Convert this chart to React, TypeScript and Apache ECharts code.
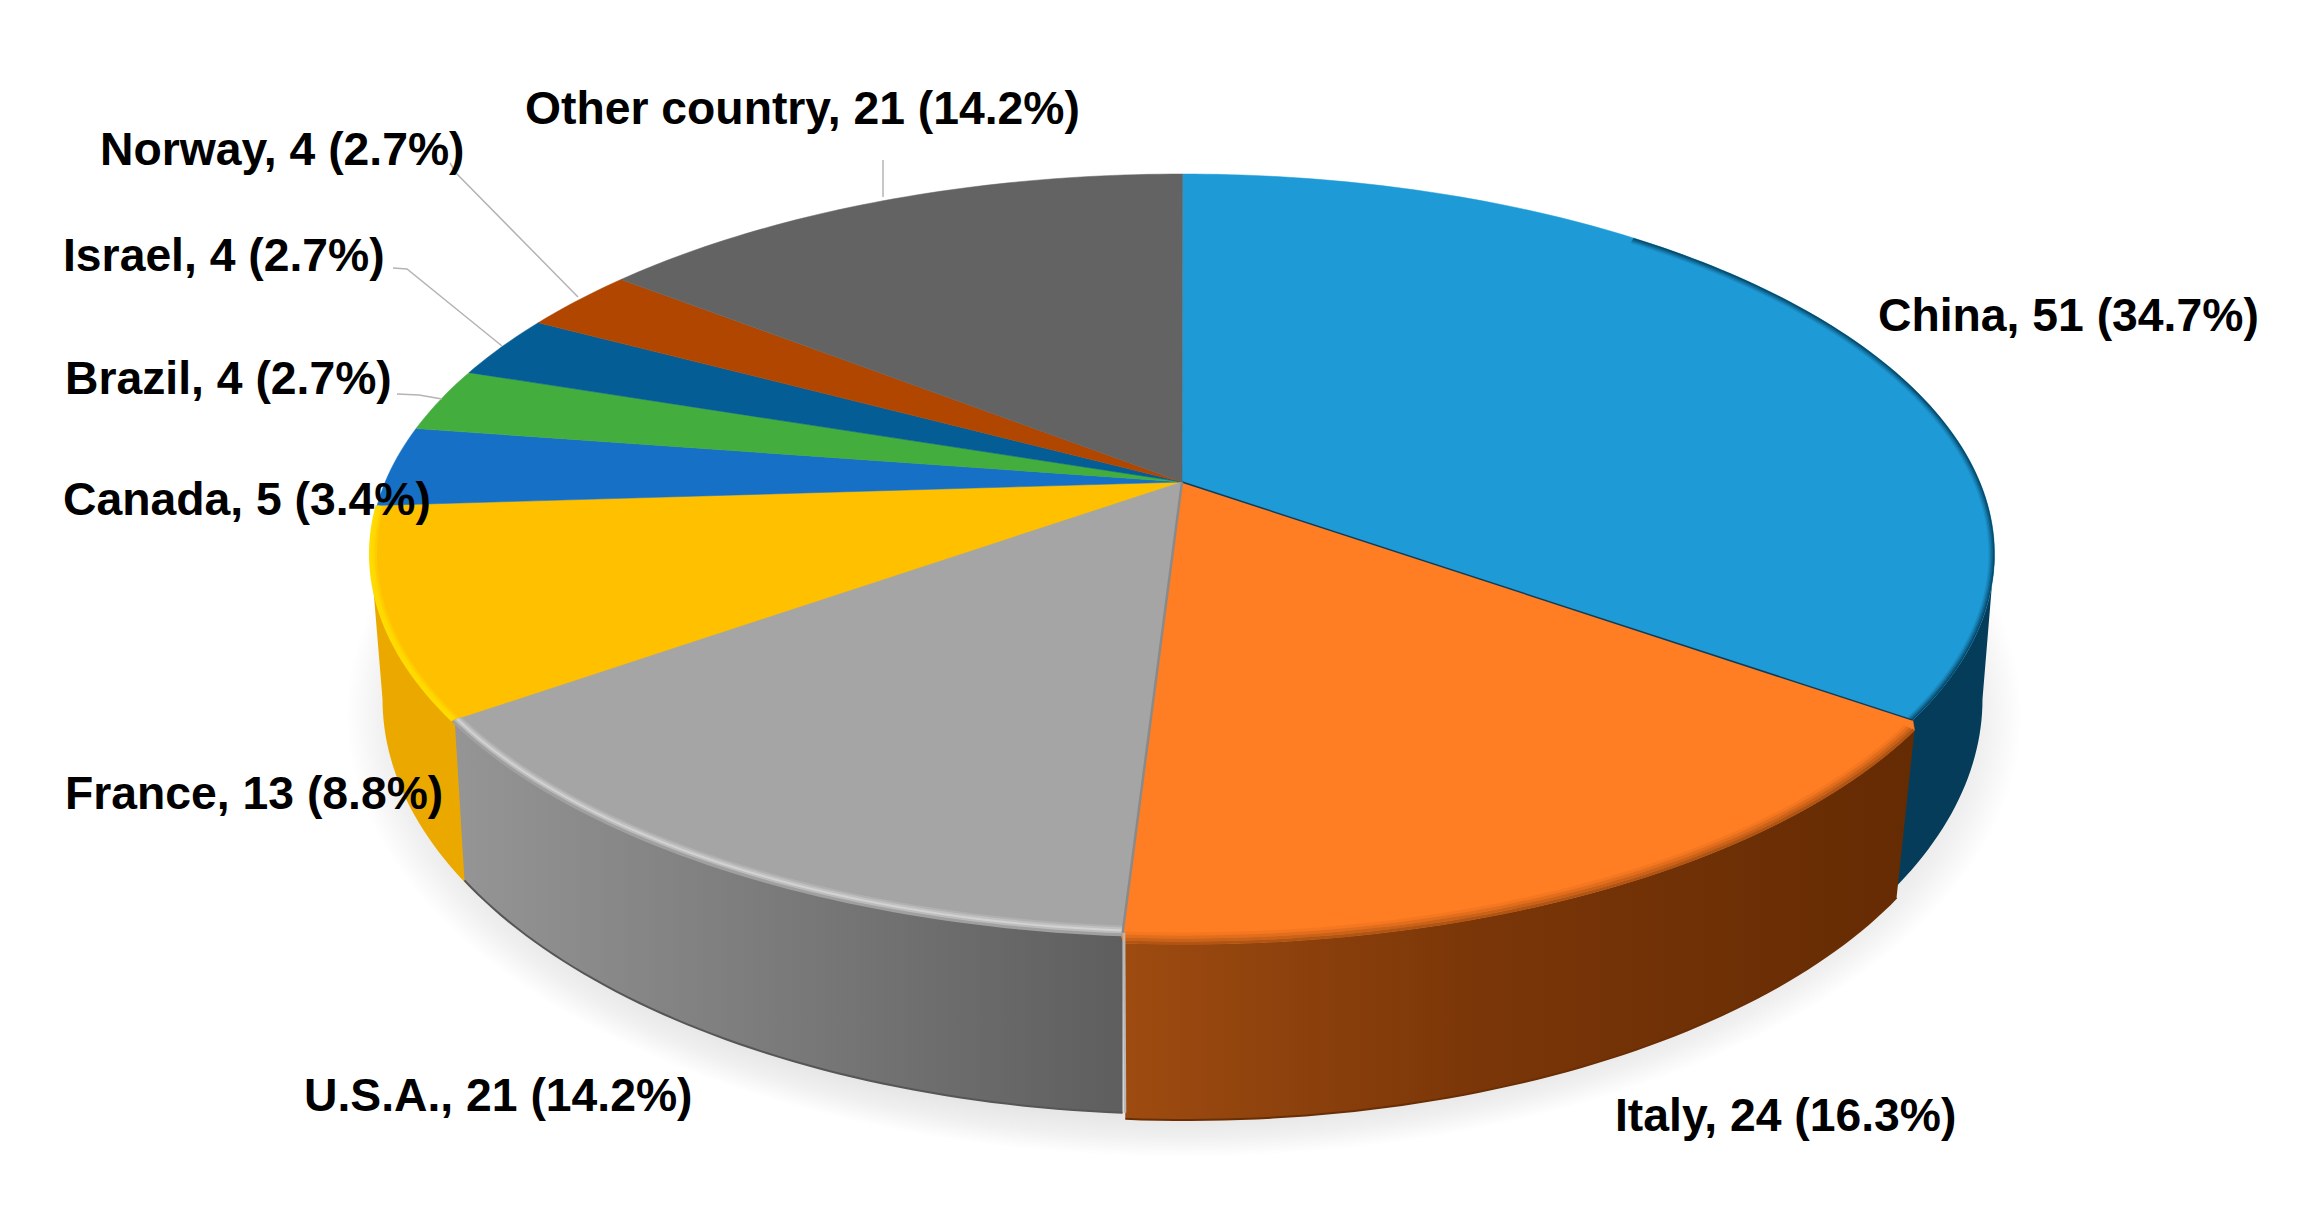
import React, { useEffect, useRef } from "react";
import * as echarts from "echarts";

const categories = ["China", "Italy", "U.S.A.", "France", "Canada", "Brazil", "Israel", "Norway", "Other country"];
const counts = [51, 24, 21, 13, 5, 4, 4, 4, 21];
const percentLabels = ["34.7%", "16.3%", "14.2%", "8.8%", "3.4%", "2.7%", "2.7%", "2.7%", "14.2%"];

const topColors = ["#1E9AD6", "#FF7D23", "#A5A5A5", "#FFC000", "#1570C6", "#43AD3D", "#045D94", "#B04600", "#636363"];
const wallStops: [number, string][][] = [
  [[0, "#043C59"], [1, "#043C59"]],
  [[0, "#9E4B10"], [0.45, "#7A3608"], [1, "#652B03"]],
  [[0, "#959595"], [1, "#5E5E5E"]],
  [[0, "#EBA900"], [1, "#EBA900"]],
];
// label anchor: left x, middle y
const labelAnchors = [
  [1878, 315], [1615, 1115], [304, 1095], [65, 793], [63, 499], [65, 378], [63, 255], [100, 149], [525, 108],
];
const leaderLines: Record<number, number[][]> = {
  5: [[397, 394], [419, 395], [442, 399]],
  6: [[393, 268], [407, 269], [502, 346]],
  7: [[450, 163], [456, 173], [578, 297]],
  8: [[883, 160], [883, 197]],
};

const POLE = [1182, 482];
const BETA = 0.18;
const TOP = { cx: 1182.5, cy: 554, a: 812, b: 380 };
const BOTTOM = { cx: 1182.5, cy: 699, a: 800, b: 415 };
const OVERRIDES: Record<number, { top: typeof TOP; bottom: typeof TOP }> = {
  1: { top: { cx: 1186, cy: 564, a: 810, b: 380 }, bottom: { cx: 1186, cy: 725, a: 790, b: 395 } },
  2: { top: { cx: 1185, cy: 554, a: 812, b: 380 }, bottom: { cx: 1184, cy: 699, a: 800, b: 415 } },
};
const total = counts.reduce((s, v) => s + v, 0);
const TANGENT_R = (Math.acos(-BETA) * 180) / Math.PI;
const TANGENT_L = 360 - TANGENT_R;

function rimPoint(deg: number, e: typeof TOP) {
  const t = (deg * Math.PI) / 180;
  const c = 1 / Math.sqrt(1 - BETA * BETA);
  const s = BETA * c;
  const d = s * Math.cos(t) + c;
  return [e.cx + (e.a * Math.sin(t)) / d, e.cy - (e.b * (Math.cos(t) * c + s)) / d];
}
function arc(a0: number, a1: number, e: typeof TOP, inset = 0) {
  const n = Math.max(2, Math.ceil(Math.abs(a1 - a0)));
  const pts: number[][] = [];
  const ee = { cx: e.cx, cy: e.cy, a: e.a - inset, b: e.b - inset };
  for (let i = 0; i <= n; i++) pts.push(rimPoint(a0 + ((a1 - a0) * i) / n, ee));
  return pts;
}
function mix(c1: string, c2: string, t: number) {
  const h = (c: string, i: number) => parseInt(c.slice(1 + i * 2, 3 + i * 2), 16);
  const v = [0, 1, 2].map((i) => Math.round(h(c1, i) * (1 - t) + h(c2, i) * t));
  return `rgb(${v[0]},${v[1]},${v[2]})`;
}

function renderSlice(params: any, api: any) {
  const i = params.dataIndex;
  const value = api.value(0);
  const before = counts.slice(0, i).reduce((s, v) => s + v, 0);
  const a0 = (before / total) * 360;
  const a1 = a0 + (value / total) * 360;
  // France and China run on a little underneath their raised neighbours
  const drawStart = i === 3 ? a0 - 1 : a0;
  const wallEnd = i === 0 ? a1 + 1.5 : a1;
  const top = OVERRIDES[i]?.top ?? TOP;
  const bottom = OVERRIDES[i]?.bottom ?? BOTTOM;
  const children: any[] = [];

  // the wall is only visible between the two silhouette tangents
  const w0 = Math.max(drawStart, TANGENT_R);
  const w1 = Math.min(wallEnd, TANGENT_L);
  if (w1 > w0) {
    children.push({
      type: "polygon",
      z2: i === 1 || i === 2 ? 1.5 : 1,
      silent: true,
      shape: { points: [...arc(w0, w1, top), ...arc(w1, w0, bottom)] },
      style: {
        fill: {
          type: "linear", x: 0, y: 0, x2: 1, y2: 0,
          colorStops: wallStops[i].map(([offset, color]) => ({ offset, color })),
        },
      },
    });
  }
  const topPts = i === 1
    ? [POLE, rimPoint(a0, TOP), ...arc(a0, a1, top), rimPoint(a1, TOP)]
    : [POLE, ...arc(drawStart, a1, top)];
  children.push({
    type: "polygon",
    z2: i === 2 ? 2.5 : 2,
    silent: true,
    shape: { points: topPts },
    style: { fill: topColors[i], stroke: topColors[i], lineWidth: 0.5 },
  });

  // soft bevel where the top meets the wall
  if (i <= 3) {
    const wall = wallStops[i][0][1];
    const base = topColors[i];
    const bevel: [number, string, number][] =
      i === 2
        ? [[6, "#B0B0B0", 3], [4, "#C0C0C0", 3], [2, "#D2D2D2", 3], [0, "#BCBCBC", 3], [-2, "#A0A0A0", 3]]
        : i === 3
          ? [[5, "#FFCC00", 3], [2.5, "#FFD800", 3], [0, "#FFDC00", 3]]
          : i === 1
            ? [[10, mix(base, wall, 0.1), 3], [7, mix(base, wall, 0.3), 3], [4, mix(base, wall, 0.55), 3], [1, mix(base, wall, 0.8), 3]]
            : [[5, mix(base, wall, 0.15), 2], [3.5, mix(base, wall, 0.35), 2], [2, mix(base, wall, 0.6), 2], [0.7, mix(base, wall, 0.85), 1.5]];
    const from = i === 0 ? 40 : a0;
    bevel.forEach(([inset, color, w]) => {
      children.push({
        type: "polyline",
        z2: 3,
        silent: true,
        shape: { points: arc(from, a1, top, inset) },
        style: { stroke: color, lineWidth: w, fill: "none" },
      });
    });
  }
  if (i === 1 || i === 2) {
    children.push({
      type: "polyline",
      z2: 3,
      silent: true,
      shape: { points: arc(a0, a1, bottom) },
      style: { stroke: i === 1 ? "#6A2E05" : "#565656", lineWidth: 2, fill: "none" },
    });
  }
  if (i === 0) {
    children.push({
      type: "polyline", z2: 4, silent: true,
      shape: { points: [POLE, rimPoint(a1, top)] },
      style: { stroke: "#0A3D5C", lineWidth: 1.5, fill: "none" },
    });
  }
  if (i === 2) {
    children.push({
      type: "polyline", z2: 4, silent: true,
      shape: { points: [POLE, rimPoint(a0, top)] },
      style: { stroke: "#8A8A8A", lineWidth: 2.5, fill: "none" },
    });
    children.push({
      type: "polyline", z2: 4, silent: true,
      shape: { points: [rimPoint(a0, { ...top, cx: top.cx + 1.5 }), rimPoint(a0, { ...bottom, cx: bottom.cx + 2.5 })] },
      style: { stroke: "#B8B8B8", lineWidth: 2.5, fill: "none" },
    });
  }

  if (leaderLines[i]) {
    children.push({
      type: "polyline",
      z2: 5,
      silent: true,
      shape: { points: leaderLines[i] },
      style: { stroke: "#B4B4B4", lineWidth: 1.5, fill: "none" },
    });
  }
  children.push({
    type: "text",
    z2: 6,
    silent: true,
    x: labelAnchors[i][0],
    y: labelAnchors[i][1],
    style: {
      text: `${categories[i]}, ${value} (${percentLabels[i]})`,
      fill: "#000000",
      fontFamily: "Liberation Sans",
      fontWeight: "bold",
      fontSize: 46.3,
      textAlign: "left",
      textVerticalAlign: "middle",
    },
  });
  return { type: "group", children };
}

export default function App() {
  const ref = useRef<HTMLDivElement>(null);
  useEffect(() => {
    document.body.style.margin = "0";
    const chart = echarts.init(ref.current!, undefined, { renderer: "svg" });
    chart.setOption({
      animation: false,
      backgroundColor: "#FFFFFF",
      graphic: [
        {
          type: "ellipse",
          z: 0,
          silent: true,
          shape: { cx: 1184, cy: 715, rx: 838, ry: 442 },
          style: {
            fill: {
              type: "radial", x: 0.5, y: 0.5, r: 0.5,
              colorStops: [
                { offset: 0, color: "#E4E4E4" },
                { offset: 0.9, color: "#E4E4E4" },
                { offset: 0.955, color: "#F0F0F0" },
                { offset: 1, color: "#FFFFFF" },
              ],
            },
          },
        },
      ],
      series: [
        {
          type: "custom",
          coordinateSystem: "none",
          z: 5,
          clip: false,
          renderItem: renderSlice,
          data: counts.map((v) => [v]),
        },
      ],
    });
    return () => chart.dispose();
  }, []);
  return <div ref={ref} style={{ position: "absolute", left: 0, top: 0, width: 2306, height: 1223 }} />;
}
